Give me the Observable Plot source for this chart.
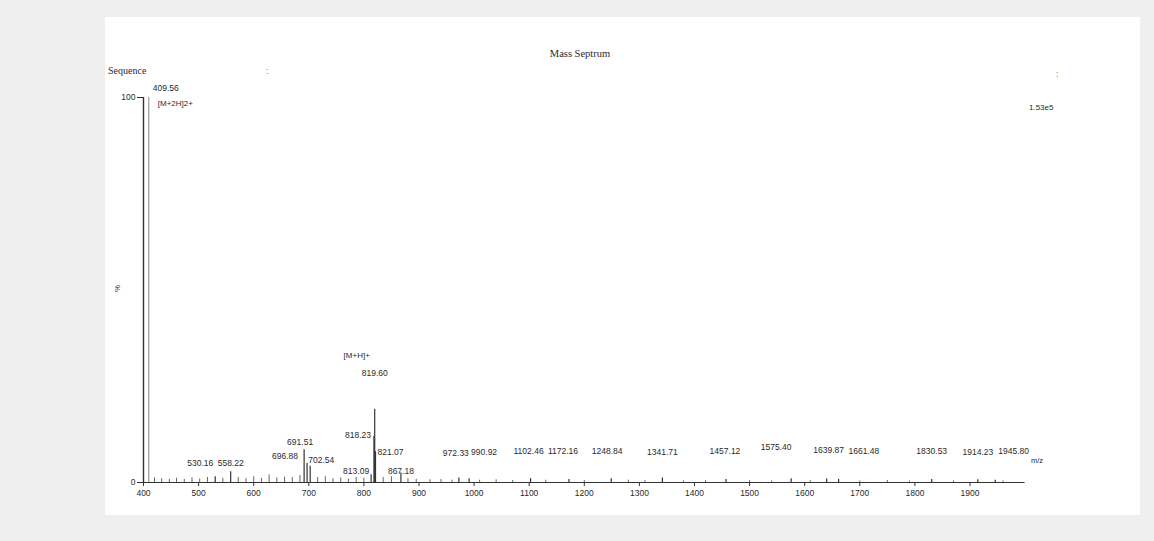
<!DOCTYPE html>
<html>
<head>
<meta charset="utf-8">
<script src="https://cdn.jsdelivr.net/npm/d3@7"></script>
<script src="https://cdn.jsdelivr.net/npm/@observablehq/plot@0.6"></script>
<style>
  html, body { margin: 0; padding: 0; background: #efefef; width: 1154px; height: 541px; overflow: hidden; }
  #panel { position: absolute; left: 105px; top: 17px; width: 1035px; height: 498px; background: #fff; }
  #chart { position: absolute; left: 0; top: 0; }
  .t { position: absolute; color: #2a2a2a; white-space: nowrap; }
  .serif { font-family: "Liberation Serif", "DejaVu Serif", serif; }
  .sans { font-family: "Liberation Sans", Arial, sans-serif; }
</style>
</head>
<body>
<div id="panel">
  <div id="chart"></div>
  <div class="t serif" style="left:475px; top:31px; font-size:10.5px; transform:translateX(-50%);">Mass Septrum</div>
  <div class="t serif" style="left:3px; top:48px; font-size:10px;">Sequence</div>
  <div class="t sans" style="left:161px; top:49px; font-size:9px; color:#777;">:</div>
  <div class="t sans" style="left:951px; top:52px; font-size:9px; color:#777;">:</div>
  <div class="t sans" style="left:924px; top:86px; font-size:8px;">1.53e5</div>
  <div class="t sans" style="left:9px; top:267px; font-size:8px; transform:rotate(-90deg);">%</div>
</div>
<script>
// Labelled peaks (m/z, relative intensity %)
const peakMz  = [409.56, 530.16, 558.22, 691.51, 696.88, 702.54, 813.09, 818.23, 819.60, 821.07, 867.18,
                 972.33, 990.92, 1102.46, 1172.16, 1248.84, 1341.71, 1457.12, 1575.40, 1639.87, 1661.48,
                 1830.53, 1914.23, 1945.80];
const peakInt = [100, 1.5, 2.8, 8.5, 5.0, 4.2, 2.0, 12, 19, 8, 2.5,
                 1.2, 1.0, 1.0, 0.8, 1.0, 1.2, 0.8, 1.0, 0.9, 0.8,
                 0.8, 0.7, 0.6];
// Unlabelled noise peaks
const noiseMz  = [420, 433, 447, 460, 474, 488, 502, 516, 544, 572, 586, 600, 614, 628, 642, 656, 670,
                  684, 716, 730, 744, 758, 772, 786, 800, 835, 850, 880, 895, 920, 940, 960, 1010, 1040,
                  1070, 1130, 1200, 1280, 1310, 1380, 1420, 1500, 1540, 1610, 1700, 1750, 1790, 1870, 1960];
const noiseInt = [1.2, 1.0, 0.8, 1.1, 0.8, 1.2, 0.9, 1.3, 1.1, 1.3, 1.0, 1.5, 1.1, 2.0, 1.2, 1.4, 1.3,
                  1.8, 1.3, 1.5, 1.0, 1.2, 0.9, 1.3, 1.1, 1.3, 1.5, 1.0, 0.8, 0.7, 0.8, 0.6, 0.6, 0.7,
                  0.5, 0.6, 0.5, 0.6, 0.5, 0.4, 0.5, 0.5, 0.4, 0.5, 0.4, 0.5, 0.4, 0.4, 0.4];
const ionLabels = [{mz: 409.56, text: "[M+2H]2+"}, {mz: 819.60, text: "[M+H]+"}];
const xTicks = [400, 500, 600, 700, 800, 900, 1000, 1100, 1200, 1300, 1400, 1500, 1600, 1700, 1800, 1900];
const yTicks = [0, 100];

const peaks = peakMz.map((mz, i) => ({mz, int: peakInt[i], label: mz.toFixed(2)}));
const noise = noiseMz.map((mz, i) => ({mz, int: noiseInt[i]}));
const ions = ionLabels.map(d => ({...d, int: peakInt[peakMz.indexOf(d.mz)]}));

// label placement style (dx, dy, anchor) per label
const lab = {
  "409.56": [4, -9, "start"], "530.16": [-2, -13, "end"], "558.22": [0, -8, "middle"],
  "691.51": [-4, -8, "middle"], "696.88": [-9, -7, "end"], "702.54": [-2, -6, "start"],
  "813.09": [-2, -4, "end"], "818.23": [-3, -1, "end"], "819.60": [0, -36, "middle"],
  "821.07": [2, 1, "start"], "867.18": [0, -2, "middle"], "972.33": [-3, -25, "middle"],
  "990.92": [2, -26, "start"], "1102.46": [-2, -27, "middle"], "1172.16": [-6, -28, "middle"],
  "1248.84": [-4, -27, "middle"], "1341.71": [0, -26, "middle"], "1457.12": [-1, -28, "middle"],
  "1575.40": [-15, -31, "middle"], "1639.87": [2, -29, "middle"], "1661.48": [10, -28, "start"],
  "1830.53": [0, -28, "middle"], "1914.23": [0, -28, "middle"], "1945.80": [3, -29, "start"]
};
const ionLab = {"[M+2H]2+": [9, 6, "start"], "[M+H]+": [-18, -54, "middle"]};
const font = "Liberation Sans, Arial, sans-serif";

const labelMarks = peaks.map(p => {
  const [dx, dy, anchor] = lab[p.label];
  return Plot.text([p], {x: "mz", y: "int", text: "label", dx, dy, textAnchor: anchor,
    fontSize: 8.5, fill: "#2a2a2a", fontFamily: font});
});
const ionMarks = ions.map(p => {
  const [dx, dy, anchor] = ionLab[p.text];
  return Plot.text([p], {x: "mz", y: "int", text: "text", dx, dy, textAnchor: anchor,
    fontSize: 8, fill: "#2a2a2a", fontFamily: font});
});

const chart = Plot.plot({
  width: 1035, height: 498,
  marginLeft: 38, marginRight: 115.4, marginTop: 80, marginBottom: 33,
  style: {background: "transparent", fontFamily: font, color: "#2a2a2a"},
  x: {domain: [400, 2000], axis: null},
  y: {domain: [0, 100], axis: null},
  marks: [
    Plot.ruleX(noise, {x: "mz", y1: 0, y2: "int", stroke: "#666", strokeWidth: 1}),
    Plot.ruleX(peaks, {x: "mz", y1: 0, y2: "int", stroke: d => d.int >= 100 ? "#999" : "#333", strokeWidth: 1.2}),
    Plot.ruleY([0], {x1: 400, x2: 2000, stroke: "#333", strokeWidth: 1.2}),
    Plot.ruleX([400], {y1: 0, y2: 100, stroke: "#333", strokeWidth: 1.4}),
    Plot.axisX(xTicks, {label: null, tickSize: 4, tickPadding: 3, fontSize: 8.5, stroke: "#333", fill: "#2a2a2a", tickFormat: d => String(d)}),
    Plot.axisY(yTicks, {label: null, tickSize: 6, tickPadding: 2, fontSize: 8.5, stroke: "#333", fill: "#2a2a2a", tickFormat: d => String(d)}),
    Plot.text(["m/z"], {frameAnchor: "bottom-right", dx: 18, dy: -20, fontSize: 7.5, textAnchor: "end", fill: "#2a2a2a", fontFamily: font}),
    ...labelMarks,
    ...ionMarks
  ]
});
document.getElementById("chart").appendChild(chart);
</script>
</body>
</html>
